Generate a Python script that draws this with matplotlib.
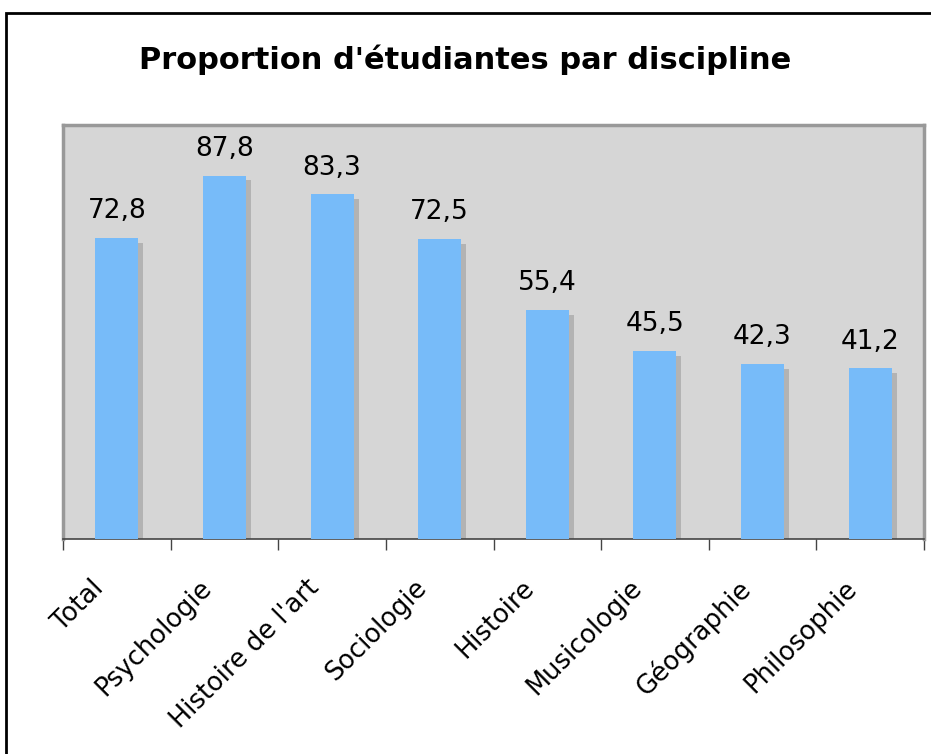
import matplotlib.pyplot as plt
import matplotlib.transforms as mtransforms
from matplotlib.patches import Rectangle

# Données
disciplines = ['Total', 'Psychologie', "Histoire de l'art", 'Sociologie',
               'Histoire', 'Musicologie', 'Géographie', 'Philosophie']
proportions = [72.8, 87.8, 83.3, 72.5, 55.4, 45.5, 42.3, 41.2]
etiquettes = ['72,8', '87,8', '83,3', '72,5', '55,4', '45,5', '42,3', '41,2']

fig = plt.figure(figsize=(9.31, 7.54), dpi=100)
ax = fig.add_axes([63/931, 1-539/754, (924-63)/931, (539-125)/754])

x = range(len(disciplines))
largeur = 0.4

# Ombre des barres
ax.bar([i + 0.046 for i in x], [v - 1.2 for v in proportions], width=largeur,
       color='#b3b3b3', zorder=2)
# Barres
ax.bar(x, proportions, width=largeur, color='#77bbf9', zorder=3)

for i, (v, lab) in enumerate(zip(proportions, etiquettes)):
    ax.annotate(lab, (i, v), xytext=(0, 14), textcoords='offset points',
                ha='center', va='baseline', fontsize=19, zorder=4)

ax.set_xlim(-0.5, len(disciplines) - 0.5)
ax.set_ylim(0, 100)
ax.set_facecolor('#d6d6d6')

# Graduations entre les catégories, étiquettes au centre
ax.set_xticks([i - 0.5 for i in range(len(disciplines) + 1)])
ax.set_xticklabels([])
ax.tick_params(axis='x', which='major', length=8, color='#444444', width=1)
ax.set_xticks(list(x), minor=True)
ax.set_xticklabels(disciplines, minor=True, rotation=45, ha='right', va='top',
                   rotation_mode='anchor', fontsize=18.5)
ax.tick_params(axis='x', which='minor', length=0, pad=26)
decal = mtransforms.ScaledTranslation(-26/100, 0, fig.dpi_scale_trans)
for t in ax.get_xticklabels(minor=True):
    t.set_transform(t.get_transform() + decal)
ax.set_yticks([])

for s in ['left', 'top', 'right']:
    ax.spines[s].set_color('#999999')
    ax.spines[s].set_linewidth(2.5)
ax.spines['bottom'].set_color('#444444')
ax.spines['bottom'].set_linewidth(1.2)

fig.text(0.5, 1-60/754, "Proportion d'étudiantes par discipline",
         ha='center', va='center', fontsize=22, fontweight='bold')

# Cadre extérieur
fig.patches.append(Rectangle((6/931, -0.1), 1.2, 1.1 - 13/754,
                             transform=fig.transFigure, fill=False,
                             edgecolor='black', linewidth=2))

fig.savefig('out.png', dpi=100)
